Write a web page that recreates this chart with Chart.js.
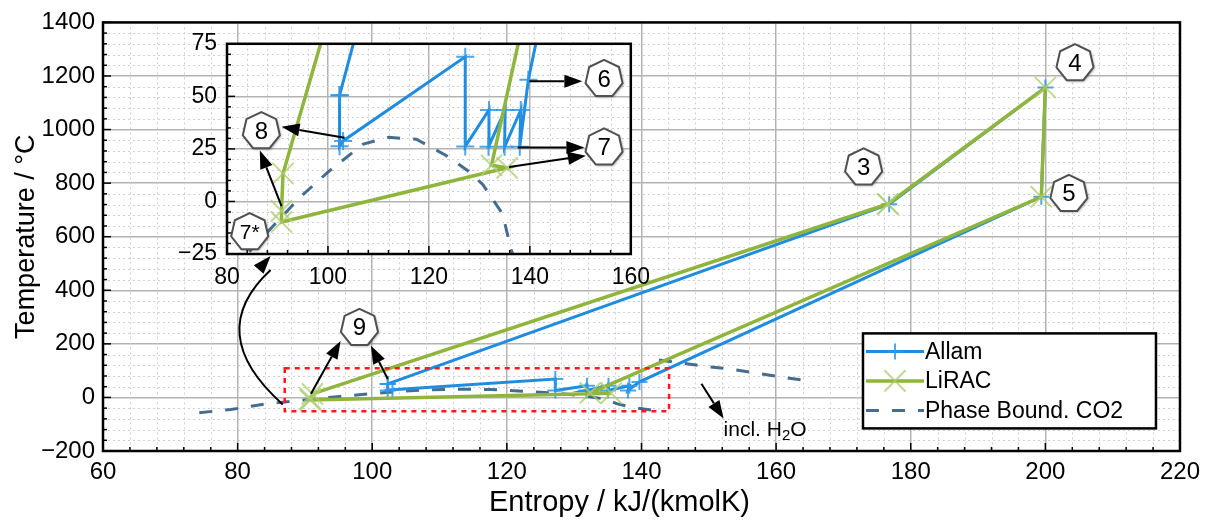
<!DOCTYPE html>
<html>
<head>
<meta charset="utf-8">
<script src="https://cdn.jsdelivr.net/npm/chart.js@4.4.1/dist/chart.umd.min.js"></script>
<style>
  html, body { margin: 0; padding: 0; background: #fff; }
  #wrap { position: relative; width: 1207px; height: 520px; }
  #main { position: absolute; left: 0; top: 0; }
  #inset { position: absolute; left: 160px; top: 20px; }
</style>
</head>
<body>
<div id="wrap">
  <canvas id="main" width="1207" height="520"></canvas>
  <canvas id="inset" width="500" height="280"></canvas>
</div>
<script>
const FONT = "'Liberation Sans', Arial, sans-serif";

// entropy / kJ/(kmolK) and temperature / °C, in cycle order
const allamS = [102.3, 176.8, 200.0, 199.4, 139.7, 138.0, 138.2, 135.0, 135.1, 131.8, 131.9, 127.2, 127.2, 103.0, 102.3, 102.3];
const allamT = [50.5, 721, 1157, 749, 57.9, 26.0, 43.5, 26.0, 43.5, 26.0, 43.5, 26.2, 68.8, 28.8, 26.3, 50.5];
const liracS = [176.6, 200.0, 199.4, 132.4, 135.5, 90.8, 90.8, 91.1, 176.6];
const liracT = [722, 1157, 749, 17.2, 16.0, -9.8, -4.5, 13.3, 722];
// CO2 phase boundary and the one including H2O
const co2S = [74.3, 79.0, 84.2, 89.0, 94.4, 100.0, 107.0, 112.0, 117.5, 123.4, 127.5, 130.7, 134.6, 136.3, 138.5, 143.2];
const co2T = [-57, -45, -24.5, -12, 1.8, 14, 27.3, 30.5, 29.6, 21.9, 15, 8, -6, -23, -37, -53];
const h2oS = [142.6, 146.0, 149.5, 153.5, 157.2, 163.8];
const h2oT = [140, 128, 116, 105, 90, 65];

const mainX = { min: 60, max: 220, step: 20, minor: 4 };
const mainY = { min: -200, max: 1400, step: 200, minor: 40 };
const zoomX = { min: 80, max: 160, step: 20, minor: 4 };
const zoomY = { min: -25, max: 75, step: 25, minor: 5 };
const xTitle = 'Entropy / kJ/(kmolK)';
const yTitle = 'Temperature / °C';

// callouts: [text, s, T]
const mainTags = [['3', 173.0, 859], ['4', 204.4, 1248], ['5', 203.5, 760], ['9', 98.1, 260]];
const insetTags = [['8', 86.8, 33.5], ['7*', 84.5, -14.6], ['6', 154.7, 58.3], ['7', 154.7, 25.7]];
// arrows: [s1, T1, s2, T2] (tip at 2)
const mainArrows = [[90.9, 14, 95.3, 211], [102.3, 69, 99.8, 193], [148.9, 51, 152.2, -79]];
const insetArrows = [[103.3, 30.3, 90.8, 35.5], [90.8, -2.2, 86.5, 24.2], [139.9, 57.2, 150.4, 57.2],
                     [137.6, 25.7, 150.8, 25.7], [135.9, 16.4, 151.1, 21.8]];
const zoomBox = [87.0, 144.1, -51.9, 108.5];
const zoomCurve = [86.7, -26, 74.8, 241, 84.9, 528];
const h2oNote = [152.2, -122];

const pts = (xs, ys) => xs.map((x, i) => ({ x, y: ys[i] }));
const fmtTick = (v) => v < 0 ? '\u2212' + Math.abs(v) : String(v);

function makeDatasets(big) {
  return [
    { label: 'Allam', data: pts(allamS, allamT), showLine: true, borderColor: '#1e8ce0', borderWidth: 3,
      pointStyle: 'cross', pointRadius: big ? 9 : 8, pointBorderColor: 'rgba(45,150,232,0.85)', pointBorderWidth: 2,
      pointBackgroundColor: 'transparent', order: 2 },
    { label: 'LiRAC', data: pts(liracS, liracT), showLine: true, borderColor: '#8fb53c', borderWidth: 3.5,
      pointStyle: 'crossRot', pointRadius: 15, pointBorderColor: 'rgba(172,205,110,0.75)', pointBorderWidth: 2,
      pointBackgroundColor: 'transparent', order: 1 },
    { label: 'Phase Bound. CO2', data: pts(co2S, co2T), showLine: true, borderColor: 'rgba(38,84,125,0.85)',
      borderWidth: 3, borderDash: [13, 13], pointRadius: 0, order: 3 },
    { label: 'incl. H2O', data: pts(h2oS, h2oT), showLine: true, borderColor: 'rgba(38,84,125,0.85)',
      borderWidth: 3, borderDash: [13, 13], pointRadius: 0, order: 3, noLegend: true },
  ];
}

function loopAxis(ax, fn) {
  const n = Math.round((ax.max - ax.min) / ax.minor);
  const per = Math.round(ax.step / ax.minor);
  for (let i = 0; i <= n; i++) fn(ax.min + i * ax.minor, i % per === 0);
}

function minorGrid(chart, ax, ay) {
  const { ctx, chartArea: a, scales: { x, y } } = chart;
  ctx.save();
  ctx.strokeStyle = '#d0d0d0'; ctx.lineWidth = 1; ctx.setLineDash([2, 3]);
  loopAxis(ax, (v, major) => {
    if (major) return;
    const p = Math.round(x.getPixelForValue(v)) + 0.5;
    ctx.beginPath(); ctx.moveTo(p, a.top); ctx.lineTo(p, a.bottom); ctx.stroke();
  });
  loopAxis(ay, (v, major) => {
    if (major) return;
    const p = Math.round(y.getPixelForValue(v)) + 0.5;
    ctx.beginPath(); ctx.moveTo(a.left, p); ctx.lineTo(a.right, p); ctx.stroke();
  });
  ctx.restore();
}

function frameTicks(chart, ax, ay) {
  const { ctx, chartArea: a, scales: { x, y } } = chart;
  ctx.save();
  ctx.strokeStyle = '#000'; ctx.lineWidth = 1.5;
  loopAxis(ax, (v, major) => {
    const p = x.getPixelForValue(v), len = major ? 8 : 4;
    ctx.beginPath(); ctx.moveTo(p, a.bottom); ctx.lineTo(p, a.bottom - len); ctx.stroke();
  });
  loopAxis(ay, (v, major) => {
    const p = y.getPixelForValue(v), len = major ? 8 : 4;
    ctx.beginPath(); ctx.moveTo(a.left, p); ctx.lineTo(a.left + len, p); ctx.stroke();
  });
  ctx.lineWidth = 2.5;
  ctx.strokeRect(a.left, a.top, a.right - a.left, a.bottom - a.top);
  ctx.restore();
}

function tag(ctx, cx, cy, text) {
  const r = 19;
  ctx.save();
  ctx.beginPath();
  for (let k = 0; k < 7; k++) {
    const ang = -Math.PI / 2 + k * 2 * Math.PI / 7;
    const X = cx + r * Math.cos(ang), Y = cy + r * Math.sin(ang);
    k ? ctx.lineTo(X, Y) : ctx.moveTo(X, Y);
  }
  ctx.closePath();
  ctx.shadowColor = 'rgba(0,0,0,0.45)'; ctx.shadowBlur = 3; ctx.shadowOffsetX = 1; ctx.shadowOffsetY = 1;
  ctx.fillStyle = '#fff'; ctx.fill();
  ctx.shadowColor = 'transparent';
  ctx.lineWidth = 2; ctx.strokeStyle = '#505050'; ctx.stroke();
  ctx.fillStyle = '#000';
  ctx.font = (text.length > 1 ? '21px ' : '24px ') + FONT;
  ctx.textAlign = 'center'; ctx.textBaseline = 'middle';
  ctx.fillText(text, cx, cy + 1);
  ctx.restore();
}

function arrowHead(ctx, bx, by, tx, ty) {
  const ang = Math.atan2(ty - by, tx - bx), L = 18, W = 6.5;
  const hx = tx - L * Math.cos(ang), hy = ty - L * Math.sin(ang);
  ctx.beginPath();
  ctx.moveTo(tx, ty);
  ctx.lineTo(hx - W * Math.sin(ang), hy + W * Math.cos(ang));
  ctx.lineTo(hx + W * Math.sin(ang), hy - W * Math.cos(ang));
  ctx.closePath(); ctx.fill();
  return [hx, hy];
}

function arrow(ctx, x1, y1, x2, y2) {
  ctx.save();
  ctx.strokeStyle = '#000'; ctx.fillStyle = '#000'; ctx.lineWidth = 2;
  const [hx, hy] = arrowHead(ctx, x1, y1, x2, y2);
  ctx.beginPath(); ctx.moveTo(x1, y1); ctx.lineTo(hx, hy); ctx.stroke();
  ctx.restore();
}

const mainDeco = {
  id: 'mainDeco',
  beforeDatasetsDraw(chart) { minorGrid(chart, mainX, mainY); },
  afterDatasetsDraw(chart) {
    const { ctx, chartArea: a, scales: { x, y } } = chart;
    frameTicks(chart, mainX, mainY);

    // x axis title (sits a little left of the plot centre in the original)
    ctx.save();
    ctx.fillStyle = '#000'; ctx.font = '29px ' + FONT; ctx.textAlign = 'center'; ctx.textBaseline = 'middle';
    ctx.fillText(xTitle, (a.left + a.right) / 2 - 22, 503);
    ctx.restore();

    // red zoom window
    ctx.save();
    ctx.strokeStyle = '#ff1a1a'; ctx.lineWidth = 2.5; ctx.setLineDash([5, 5]);
    const bx1 = x.getPixelForValue(zoomBox[0]), bx2 = x.getPixelForValue(zoomBox[1]);
    const by1 = y.getPixelForValue(zoomBox[3]), by2 = y.getPixelForValue(zoomBox[2]);
    ctx.strokeRect(bx1, by1, bx2 - bx1, by2 - by1);
    ctx.restore();

    // curved arrow to the inset
    const [c0, c1, c2, c3, c4, c5] = zoomCurve;
    const p0 = [x.getPixelForValue(c0), y.getPixelForValue(c1)];
    const pc = [x.getPixelForValue(c2), y.getPixelForValue(c3)];
    const p2 = [x.getPixelForValue(c4), y.getPixelForValue(c5)];
    ctx.save();
    ctx.strokeStyle = '#000'; ctx.fillStyle = '#000'; ctx.lineWidth = 2;
    ctx.beginPath(); ctx.moveTo(p0[0], p0[1]); ctx.quadraticCurveTo(pc[0], pc[1], p2[0], p2[1] + 14); ctx.stroke();
    arrowHead(ctx, pc[0], pc[1], p2[0], p2[1]);
    ctx.restore();

    mainArrows.forEach(([s1, t1, s2, t2]) =>
      arrow(ctx, x.getPixelForValue(s1), y.getPixelForValue(t1), x.getPixelForValue(s2), y.getPixelForValue(t2)));
    mainTags.forEach(([t, s, T]) => tag(ctx, x.getPixelForValue(s), y.getPixelForValue(T), t));

    // incl. H2O note
    ctx.save();
    ctx.fillStyle = '#000'; ctx.textAlign = 'left'; ctx.textBaseline = 'middle';
    let tx = x.getPixelForValue(h2oNote[0]);
    const ty = y.getPixelForValue(h2oNote[1]);
    ctx.font = '21px ' + FONT; ctx.fillText('incl. H', tx, ty); tx += ctx.measureText('incl. H').width;
    ctx.font = '15px ' + FONT; ctx.fillText('2', tx, ty + 6); tx += ctx.measureText('2').width;
    ctx.font = '21px ' + FONT; ctx.fillText('O', tx, ty);
    ctx.restore();

    // legend
    const lx = a.right - 317, ly = a.top + 311, lw = 293, lh = 95;
    ctx.save();
    ctx.fillStyle = '#fff'; ctx.fillRect(lx, ly, lw, lh);
    ctx.strokeStyle = '#000'; ctx.lineWidth = 2.5; ctx.strokeRect(lx, ly, lw, lh);
    chart.data.datasets.filter(d => !d.noLegend).forEach((d, i) => {
      const ry = ly + 18 + i * 29.5;
      ctx.save();
      ctx.strokeStyle = d.borderColor; ctx.lineWidth = d.borderWidth;
      ctx.setLineDash(d.borderDash || []);
      ctx.beginPath(); ctx.moveTo(lx + 3, ry); ctx.lineTo(lx + 61, ry); ctx.stroke();
      ctx.setLineDash([]);
      if (d.pointRadius > 0) {
        ctx.strokeStyle = d.pointBorderColor; ctx.lineWidth = d.pointBorderWidth;
        Chart.helpers.drawPoint(ctx, { pointStyle: d.pointStyle, radius: d.pointRadius, borderWidth: d.pointBorderWidth, rotation: 0 }, lx + 32, ry);
      }
      ctx.restore();
      ctx.fillStyle = '#000'; ctx.font = '23px ' + FONT; ctx.textAlign = 'left'; ctx.textBaseline = 'middle';
      ctx.fillText(d.label, lx + 62, ry + 1);
    });
    ctx.restore();
  }
};

const insetDeco = {
  id: 'insetDeco',
  beforeDraw(chart) {
    const { ctx, chartArea: a } = chart;
    ctx.save(); ctx.fillStyle = '#fff'; ctx.fillRect(a.left, a.top, a.right - a.left, a.bottom - a.top); ctx.restore();
  },
  beforeDatasetsDraw(chart) { minorGrid(chart, zoomX, zoomY); },
  afterDatasetsDraw(chart) {
    const { ctx, scales: { x, y } } = chart;
    frameTicks(chart, zoomX, zoomY);
    insetArrows.forEach(([s1, t1, s2, t2]) =>
      arrow(ctx, x.getPixelForValue(s1), y.getPixelForValue(t1), x.getPixelForValue(s2), y.getPixelForValue(t2)));
    insetTags.forEach(([t, s, T]) => tag(ctx, x.getPixelForValue(s), y.getPixelForValue(T), t));
  }
};

function axisOpts(ax, size, pad, fit, title) {
  return {
    type: 'linear', min: ax.min, max: ax.max,
    ticks: { stepSize: ax.step, color: '#000', font: { family: FONT, size }, padding: pad, callback: fmtTick, maxRotation: 0 },
    grid: { color: '#b3b3b3', lineWidth: 1.5, drawTicks: false },
    border: { display: false },
    title: title || { display: false },
    afterFit: fit,
  };
}

new Chart(document.getElementById('main'), {
  type: 'scatter',
  data: { datasets: makeDatasets(false) },
  options: {
    responsive: false, animation: false, devicePixelRatio: 1, events: [],
    layout: { padding: { top: 19, right: 25, left: 0, bottom: 0 } },
    plugins: { legend: { display: false }, tooltip: { enabled: false } },
    scales: {
      x: axisOpts(mainX, 24, 7, s => { s.height = 69; }),
      y: axisOpts(mainY, 24, 8, s => { s.width = 103; },
        { display: true, text: yTitle, color: '#000', font: { family: FONT, size: 27 }, padding: { top: 10, bottom: 0 } }),
    }
  },
  plugins: [mainDeco]
});

new Chart(document.getElementById('inset'), {
  type: 'scatter',
  data: { datasets: makeDatasets(true) },
  options: {
    responsive: false, animation: false, devicePixelRatio: 1, events: [],
    layout: { padding: { top: 19, right: 28, left: 0, bottom: 0 } },
    plugins: { legend: { display: false }, tooltip: { enabled: false } },
    scales: {
      x: axisOpts(zoomX, 23, 10, s => { s.height = 46; }),
      y: axisOpts(zoomY, 23, 10, s => { s.width = 67; }),
    }
  },
  plugins: [insetDeco]
});
</script>
</body>
</html>
